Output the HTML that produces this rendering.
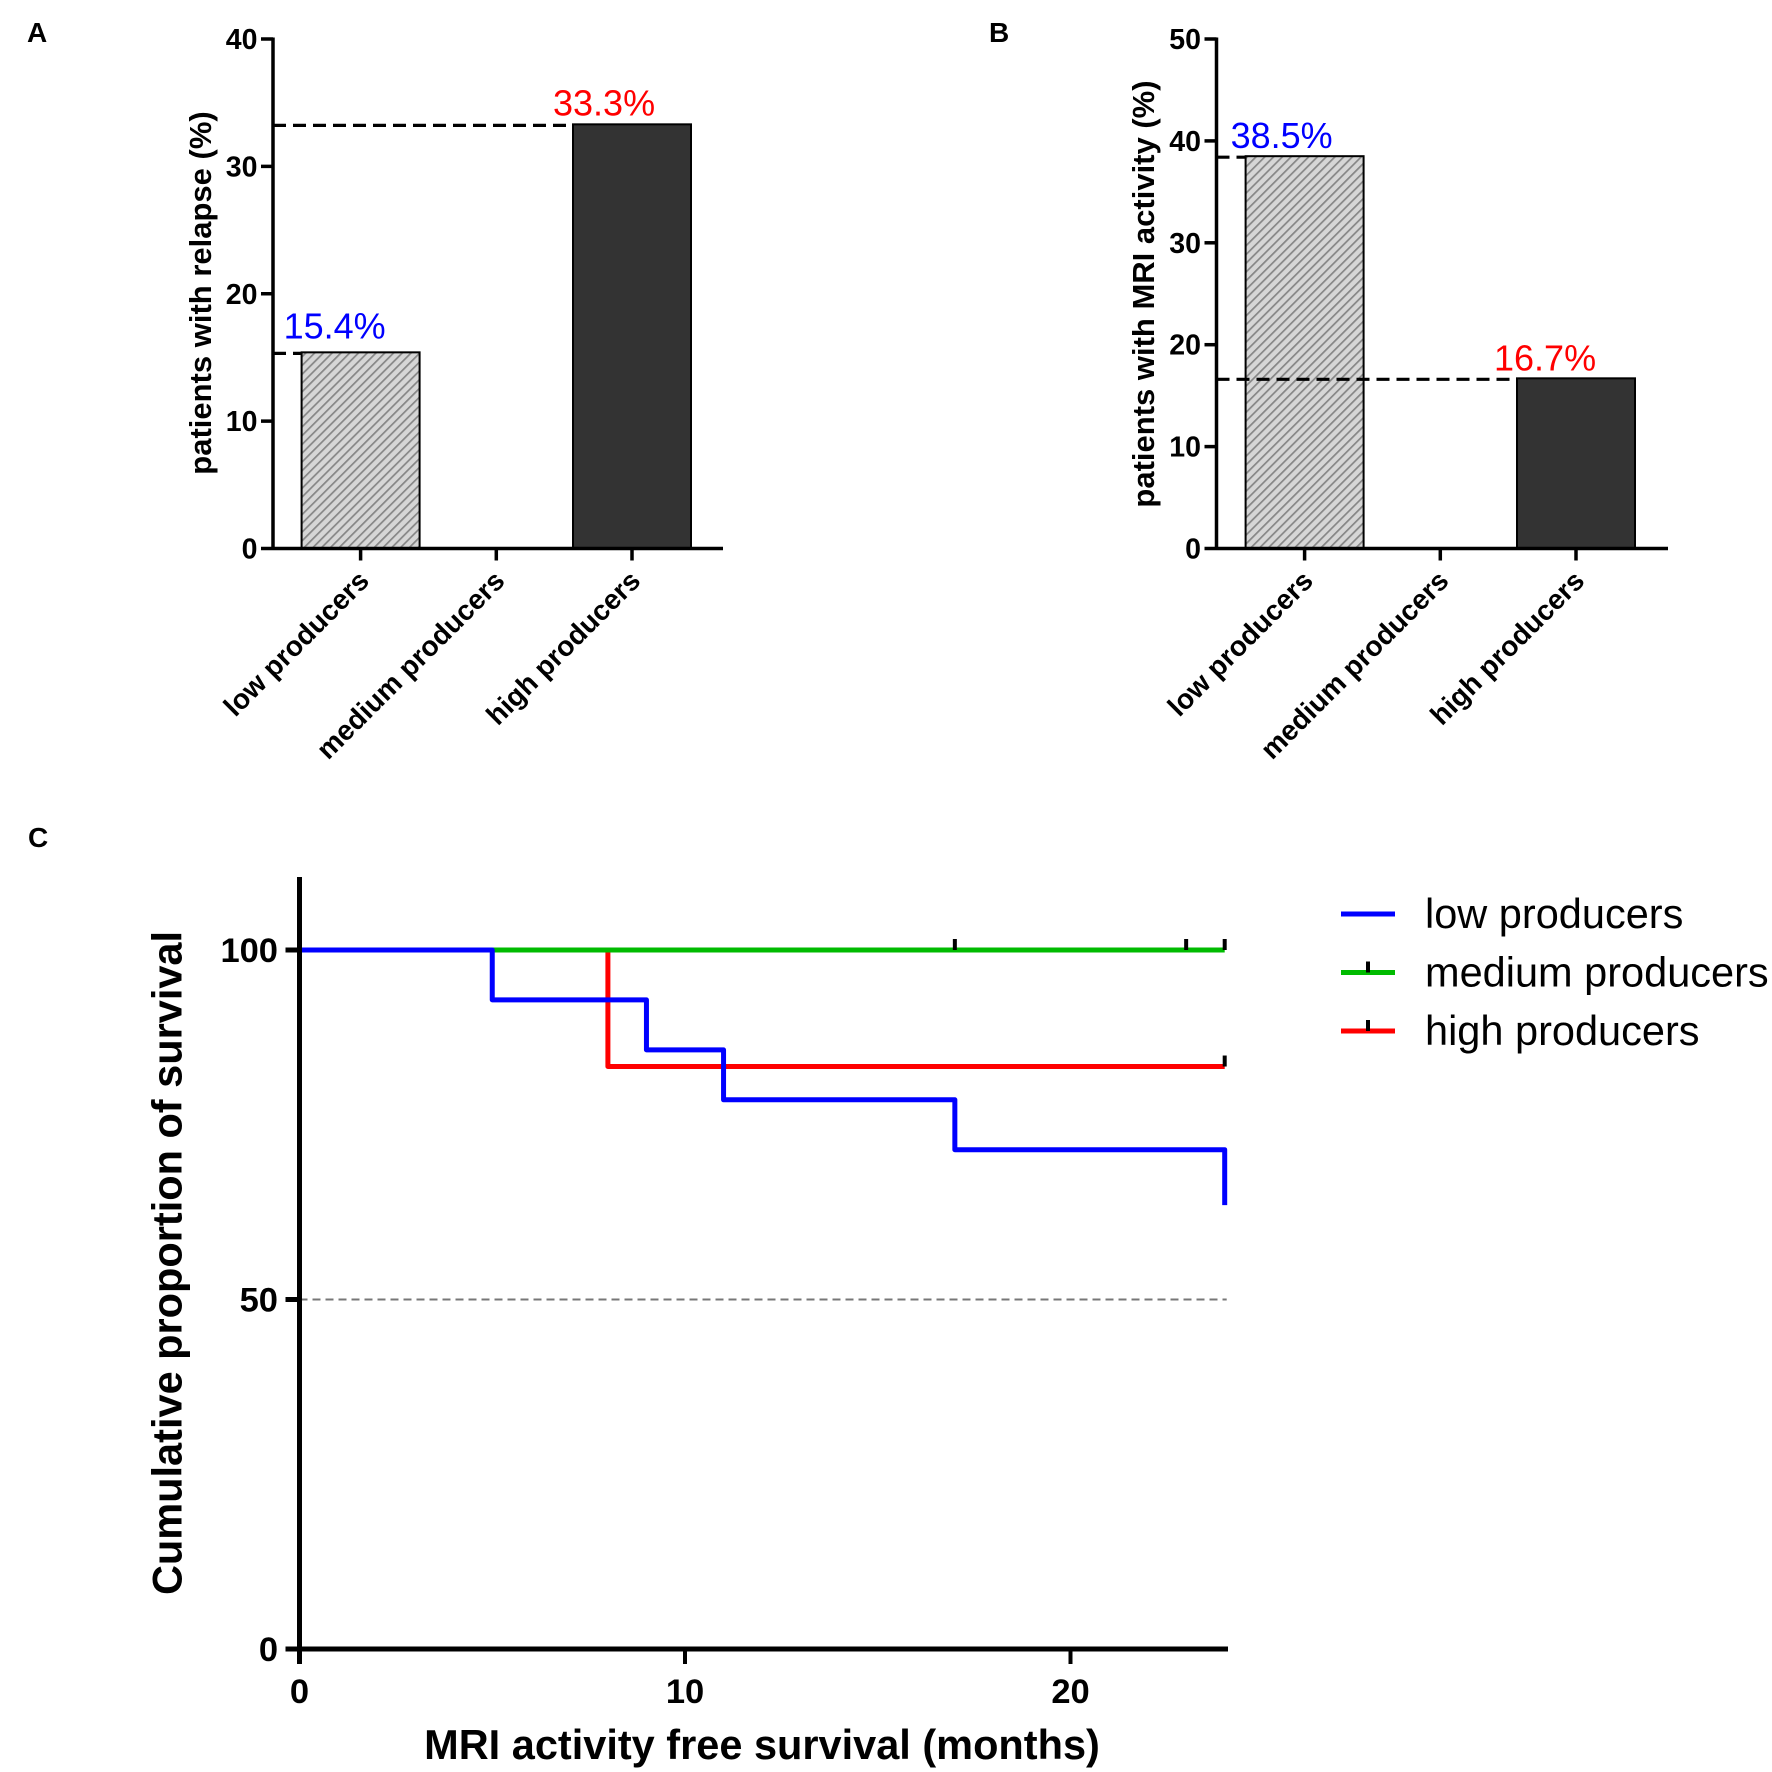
<!DOCTYPE html>
<html lang="en">
<head>
<meta charset="utf-8">
<title>Relapse, MRI activity and survival by producer group</title>
<style>
html,body{margin:0;padding:0;background:#fff;}
svg{display:block;font-family:"Liberation Sans",Arial,sans-serif;}
</style>
</head>
<body>
<svg id="figure" width="1772" height="1772" viewBox="0 0 1772 1772" xmlns="http://www.w3.org/2000/svg">
  <defs>
    <pattern id="hatch" patternUnits="userSpaceOnUse" width="6.2" height="6.2" patternTransform="rotate(-45)">
      <rect width="6.2" height="6.2" fill="#d6d6d6"></rect>
      <rect width="6.2" height="1.7" fill="#868686"></rect>
    </pattern>
  </defs>
  <rect width="1772" height="1772" fill="#fff"></rect>
  <text x="27" y="42" font-size="28" font-weight="700">A</text>
  <text x="989" y="42" font-size="28" font-weight="700">B</text>
  <text x="28" y="847" font-size="28" font-weight="700">C</text>
  <g id="panel-a"></g>
  <g id="panel-b"></g>
  <g id="panel-c"></g>
</svg>
<script>
const barCategories = ['low producers', 'medium producers', 'high producers'];
const relapseValues = [15.4, 0, 33.3];
const relapseTicks = [0, 10, 20, 30, 40];
const mriValues = [38.5, 0, 16.7];
const mriTicks = [0, 10, 20, 30, 40, 50];

const survivalXTicks = [0, 10, 20];
const survivalYTicks = [0, 50, 100];
const lowTimes = [0, 5, 9, 11, 17, 24];
const lowSurvival = [100, 92.86, 85.71, 78.57, 71.43, 63.5];
const mediumTimes = [0, 24];
const mediumSurvival = [100, 100];
const highTimes = [0, 8, 24];
const highSurvival = [100, 83.33, 83.33];
const mediumCensored = [17, 23, 24];
const highCensored = [24];
const referenceLevel = 50;
const legendLabels = ['low producers', 'medium producers', 'high producers'];

const NS = 'http://www.w3.org/2000/svg';
function make(parent, tag, attrs, content) {
  const node = document.createElementNS(NS, tag);
  for (const key in attrs) node.setAttribute(key, attrs[key]);
  if (content !== undefined) node.textContent = content;
  parent.appendChild(node);
  return node;
}

function drawBarPanel(root, cfg) {
  const yOf = v => cfg.y0 - (v / cfg.yMax) * (cfg.y0 - cfg.yTop);
  const xOf = i => cfg.tickStart + i * cfg.tickStep;
  const halfBar = 59;

  cfg.values.forEach((value, i) => {
    if (value <= 0) return;
    const bar = make(root, 'rect', {
      x: xOf(i) - halfBar, y: yOf(value), width: halfBar * 2, height: cfg.y0 - yOf(value),
      fill: i === 0 ? 'url(#hatch)' : '#333', stroke: '#000', 'stroke-width': 2
    });
    
    
  });

  cfg.values.forEach((value, i) => {
    if (value <= 0) return;
    const guide = make(root, 'line', {
      x1: cfg.axisX, x2: xOf(i) - halfBar, y1: yOf(value) + 1, y2: yOf(value) + 1,
      stroke: '#000', 'stroke-width': 3.2, 'stroke-dasharray': '13 7'
    });
    
    

    const label = make(root, 'text', {
      x: xOf(i) + cfg.valueDx[i], y: yOf(value) + cfg.valueDy[i],
      'font-size': 36, fill: i === 0 ? '#0000ff' : '#ff0000'
    }, value.toFixed(1) + '%');
    
    
  });

  const yAxis = make(root, 'line', {
    x1: cfg.axisX, x2: cfg.axisX, y1: cfg.yTop - 1.5, y2: cfg.y0 + 1.5, stroke: '#000', 'stroke-width': 3.5
  });
  
  

  const xAxis = make(root, 'line', {
    x1: cfg.axisX, x2: cfg.xEnd, y1: cfg.y0, y2: cfg.y0, stroke: '#000', 'stroke-width': 3.5
  });
  
  

  cfg.ticks.forEach(t => {
    const tick = make(root, 'line', {
      x1: cfg.axisX - 12, x2: cfg.axisX, y1: yOf(t), y2: yOf(t), stroke: '#000', 'stroke-width': 3.5
    });
    
    

    const tickLabel = make(root, 'text', {
      x: cfg.axisX - 15.5, y: yOf(t) + 10, 'text-anchor': 'end', 'font-size': 28.5, 'font-weight': 700
    }, String(t));
    
    
  });

  barCategories.forEach((name, i) => {
    const tick = make(root, 'line', {
      x1: xOf(i), x2: xOf(i), y1: cfg.y0, y2: cfg.y0 + 12, stroke: '#000', 'stroke-width': 3.5
    });
    
    

    const ax = xOf(i) + 10, ay = cfg.y0 + 34;
    const catLabel = make(root, 'text', {
      x: ax, y: ay, 'text-anchor': 'end', 'font-size': 28, 'font-weight': 700,
      transform: 'rotate(-45 ' + ax + ' ' + ay + ')'
    }, name);
    
    
  });

  const title = make(root, 'text', {
    x: cfg.titleX, y: cfg.titleY, 'text-anchor': 'middle', 'font-size': 31, 'font-weight': 700,
    transform: 'rotate(-90 ' + cfg.titleX + ' ' + cfg.titleY + ')'
  }, cfg.title);
  
  
}

drawBarPanel(document.getElementById('panel-a'), {
  values: relapseValues, ticks: relapseTicks, yMax: 40, y0: 548.5, yTop: 39,
  axisX: 273, xEnd: 723, tickStart: 360.6, tickStep: 135.7,
  valueDx: [-77, 0, -79], valueDy: [-14, 0, -9],
  title: 'patients with relapse (%)', titleX: 211, titleY: 293
});
drawBarPanel(document.getElementById('panel-b'), {
  values: mriValues, ticks: mriTicks, yMax: 50, y0: 548.5, yTop: 39,
  axisX: 1216.5, xEnd: 1668, tickStart: 1304.6, tickStep: 135.7,
  valueDx: [-74, 0, -82], valueDy: [-8, 0, -8],
  title: 'patients with MRI activity (%)', titleX: 1154, titleY: 294
});

const panelC = document.getElementById('panel-c');
const cX0 = 299.5, cPerMonth = 38.55, cY0 = 1649, cPerPct = 6.99;
const xOfMonth = m => cX0 + m * cPerMonth;
const yOfPct = p => cY0 - p * cPerPct;

function stepPoints(times, values) {
  const pts = [];
  times.forEach((t, i) => {
    if (i > 0) pts.push(xOfMonth(t) + ',' + yOfPct(values[i - 1]));
    pts.push(xOfMonth(t) + ',' + yOfPct(values[i]));
  });
  return pts.join(' ');
}

const refLine = make(panelC, 'line', {
  x1: cX0, x2: xOfMonth(24) + 2, y1: yOfPct(referenceLevel), y2: yOfPct(referenceLevel),
  stroke: '#777', 'stroke-width': 2, 'stroke-dasharray': '8 5'
});



const highLine = make(panelC, 'polyline', {
  points: stepPoints(highTimes, highSurvival), fill: 'none', stroke: '#ff0000', 'stroke-width': 5, 'stroke-linejoin': 'round'
});



const mediumLine = make(panelC, 'polyline', {
  points: stepPoints(mediumTimes, mediumSurvival), fill: 'none', stroke: '#00bb00', 'stroke-width': 5
});



const lowLine = make(panelC, 'polyline', {
  points: stepPoints(lowTimes, lowSurvival), fill: 'none', stroke: '#0000ff', 'stroke-width': 5, 'stroke-linejoin': 'round'
});



mediumCensored.forEach(m => {
  const mark = make(panelC, 'line', {
    x1: xOfMonth(m), x2: xOfMonth(m), y1: yOfPct(100) - 11, y2: yOfPct(100), stroke: '#000', 'stroke-width': 4
  });
  
  
});
highCensored.forEach(m => {
  const mark = make(panelC, 'line', {
    x1: xOfMonth(m), x2: xOfMonth(m), y1: yOfPct(highSurvival[2]) - 11, y2: yOfPct(highSurvival[2]), stroke: '#000', 'stroke-width': 4
  });
  
  
});

const cYAxis = make(panelC, 'line', {
  x1: cX0, x2: cX0, y1: 877, y2: cY0 + 15, stroke: '#000', 'stroke-width': 5
});



const cXAxis = make(panelC, 'line', {
  x1: cX0 - 14, x2: 1228, y1: cY0, y2: cY0, stroke: '#000', 'stroke-width': 5
});



survivalYTicks.forEach(t => {
  const tick = make(panelC, 'line', {
    x1: cX0 - 14, x2: cX0, y1: yOfPct(t), y2: yOfPct(t), stroke: '#000', 'stroke-width': 5
  });
  
  

  const label = make(panelC, 'text', {
    x: 278, y: yOfPct(t) + 12, 'text-anchor': 'end', 'font-size': 34.5, 'font-weight': 700
  }, String(t));
  
  
});

survivalXTicks.forEach(t => {
  const tick = make(panelC, 'line', {
    x1: xOfMonth(t), x2: xOfMonth(t), y1: cY0, y2: cY0 + 15, stroke: '#000', 'stroke-width': 4
  });
  
  

  const label = make(panelC, 'text', {
    x: xOfMonth(t), y: 1703, 'text-anchor': 'middle', 'font-size': 34.5, 'font-weight': 700
  }, String(t));
  
  
});

const cXTitle = make(panelC, 'text', {
  x: 762, y: 1759, 'text-anchor': 'middle', 'font-size': 41.5, 'font-weight': 700
}, 'MRI activity free survival (months)');



const cYTitle = make(panelC, 'text', {
  x: 181.5, y: 1263, 'text-anchor': 'middle', 'font-size': 41.5, 'font-weight': 700,
  transform: 'rotate(-90 181.5 1263)'
}, 'Cumulative proportion of survival');



const legendColors = ['#0000ff', '#00bb00', '#ff0000'];
legendLabels.forEach((name, i) => {
  const rowY = 914 + i * 58.5;
  const swatch = make(panelC, 'line', {
    x1: 1341, x2: 1395, y1: rowY, y2: rowY, stroke: legendColors[i], 'stroke-width': 5
  });
  
  

  if (i > 0) {
    const mark = make(panelC, 'line', {
      x1: 1368, x2: 1368, y1: rowY - 11, y2: rowY, stroke: '#000', 'stroke-width': 4
    });
    
    
  }

  const text = make(panelC, 'text', { x: 1425, y: rowY + 14, 'font-size': 41.5 }, name);
  
  
});
</script>
</body>
</html>
